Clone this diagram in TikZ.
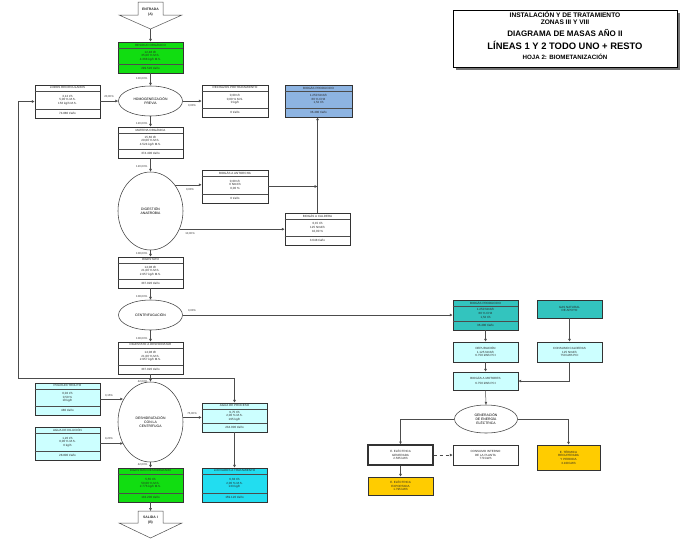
\documentclass[tikz,border=0pt]{standalone}
\usepackage{fontspec}
\setmainfont{Liberation Sans}
\usetikzlibrary{shapes.geometric,arrows.meta,fit}
\definecolor{cgreen}{HTML}{11DD11}
\definecolor{cblue}{HTML}{8DB4E2}
\definecolor{cteal}{HTML}{33C4BE}
\definecolor{clcyan}{HTML}{CCFFFF}
\definecolor{ccyan}{HTML}{22DDF0}
\definecolor{cyel}{HTML}{FFCC00}
\newcommand{\tribox}[9]{%
  \node[dbox, fill=#2, fit={(#3,#4)(#5,#6)}] (#1) {};
  \draw[divl] ([yshift=-6pt]#1.north west) -- ([yshift=-6pt]#1.north east);
  \draw[divl] ([yshift=9pt]#1.south west) -- ([yshift=9pt]#1.south east);
  \node[btxt] at ([yshift=-3pt]#1.north) {#7};
  \node[btxt] at ([yshift=1.5pt]#1.center) {#8};
  \node[btxt] at ([yshift=4.5pt]#1.south) {#9};
}
\newcommand{\plainbox}[7]{%
  \node[dbox, fill=#2, fit={(#3,#4)(#5,#6)}] (#1) {};
  \node[btxt] at (#1.center) {#7};
}
\begin{document}
\begin{tikzpicture}[x=1pt,y=-1pt,
  dbox/.style={draw=black!80, line width=0.55pt, inner sep=0pt},
  divl/.style={draw=black!70, line width=0.4pt},
  btxt/.style={font=\fontsize{3}{3.6}\selectfont, align=center, inner sep=0pt, text=black!85},
  ell/.style={ellipse, draw=black!75, line width=0.55pt, fill=white, inner sep=0pt, font=\fontsize{3.4}{4}\selectfont, align=center},
  conn/.style={draw=black!70, line width=0.5pt},
  arr/.style={conn, -{Latex[length=2.8pt,width=2.8pt]}},
  lbl/.style={font=\fontsize{2.8}{3.2}\selectfont, inner sep=0.5pt, text=black!80},
  ttl/.style={font=\fontsize{#1}{#1}\selectfont\bfseries, inner sep=0pt},
]
\fill[white] (0,0) rectangle (685,544);
\useasboundingbox (0,0) rectangle (685,544);

% ---------- title block ----------
\fill[black!55] (456,13) rectangle (680,70);
\draw[fill=white, line width=0.7pt] (453,10) rectangle (677,67);
\node[ttl=6.6] (t1) at (565,14.5) {INSTALACIÓN Y DE TRATAMIENTO};
\node[ttl=6.6] (t2) at (565,22.5) {ZONAS III Y VIII};
\node[ttl=8.0] (t3) at (565,33) {DIAGRAMA DE MASAS AÑO II};
\node[ttl=9.4] (t4) at (565,45) {LÍNEAS 1 Y 2 TODO UNO + RESTO};
\node[ttl=6.2] (t5) at (565,57) {HOJA 2: BIOMETANIZACIÓN};

% ---------- input / output arrows ----------
\draw[conn, fill=white] (138,2) -- (163,2) -- (163,15) -- (182,15) -- (150.5,29) -- (119,15) -- (138,15) -- cycle;
\node[btxt, font=\fontsize{3.4}{4}\selectfont\bfseries] (inA) at (150.5,12) {ENTRADA\\[1pt](A)};
\coordinate (inAtip) at (150.5,29);
\draw[conn, fill=white] (138,511) -- (163,511) -- (163,523) -- (182,523) -- (150.5,538) -- (119,523) -- (138,523) -- cycle;
\node[btxt, font=\fontsize{3.4}{4}\selectfont\bfseries] (outB) at (150.5,520) {SALIDA I\\[1pt](B)};
\coordinate (outBtop) at (150.5,511);

% ---------- main column ----------
\tribox{g1}{cgreen}{118}{42}{183}{73}{RESIDUO ORGÁNICO}{12,48 t/h\\35,00 \% M.S.\\4.368 kg/h M.S.}{299.520 t/año}
\node[ell, minimum width=64pt, minimum height=30pt] (e1) at (150.5,101) {HOMOGENEIZACIÓN\\PREVIA};
\tribox{lb1}{white}{35}{85}{100}{118}{LODOS RECIRCULADOS}{3,12 t/h\\5,00 \% M.S.\\156 kg/h M.S.}{74.880 t/año}
\tribox{rb1}{white}{202}{85}{268}{117}{RECHAZOS PRETRATAMIENTO}{0,00 t/h\\0,00 \% M.S.\\0 kg/h}{0 t/año}
\tribox{bl}{cblue}{285}{85}{352}{117}{BIOGÁS PRODUCIDO}{1.250 Nm3/h\\60 \% CH4\\1,52 t/h}{36.480 t/año}
\tribox{b2}{white}{118}{127}{183}{158}{MATERIA ORGÁNICA}{15,60 t/h\\29,00 \% M.S.\\4.524 kg/h M.S.}{374.400 t/año}
\node[ell, minimum width=65pt, minimum height=78pt] (e2) at (150.5,211) {DIGESTIÓN\\ANAEROBIA};
\tribox{rb2}{white}{202}{170}{268}{203}{BIOGÁS A ANTORCHA}{0,00 t/h\\0 Nm3/h\\0,00 \%}{0 t/año}
\tribox{rb3}{white}{285}{213}{350}{245}{BIOGÁS A CALDERA}{0,15 t/h\\125 Nm3/h\\10,00 \%}{3.648 t/año}
\tribox{b3}{white}{118}{257}{183}{288}{DIGESTATO}{14,08 t/h\\21,00 \% M.S.\\2.957 kg/h M.S.}{337.920 t/año}
\node[ell, minimum width=64pt, minimum height=30pt] (e3) at (150.5,315) {CENTRIFUGACIÓN};
\tribox{b4}{white}{118}{342}{183}{374}{DIGESTATO A DESHIDRATAR}{14,08 t/h\\21,00 \% M.S.\\2.957 kg/h M.S.}{337.920 t/año}
\node[ell, minimum width=65pt, minimum height=80pt] (e4) at (150.5,422) {DESHIDRATACIÓN\\CON LA\\CENTRÍFUGA};
\tribox{la}{clcyan}{35}{383}{100}{415}{POLIELECTROLITO}{0,02 t/h\\0,50 \%\\10 kg/h}{480 t/año}
\tribox{lb}{clcyan}{35}{427}{100}{460}{AGUA DE DILUCIÓN}{1,20 t/h\\0,00 \% M.S.\\0 kg/h}{28.800 t/año}
\tribox{rb4}{clcyan}{202}{403}{267}{432}{AGUA DE PROCESO}{9,75 t/h\\2,00 \% M.S.\\195 kg/h}{234.000 t/año}
\tribox{g2}{cgreen}{118}{468}{183}{502}{DIGESTATO DESHIDRATADO}{5,55 t/h\\50,00 \% M.S.\\2.776 kg/h M.S.}{133.200 t/año}
\tribox{cy}{ccyan}{202}{468}{267}{502}{LIXIVIADOS A TRATAMIENTO}{6,63 t/h\\2,00 \% M.S.\\133 kg/h}{159.120 t/año}

% ---------- energy section ----------
\tribox{tl1}{cteal}{453}{300}{518}{330}{BIOGÁS PRODUCIDO}{1.250 Nm3/h\\60 \% CH4\\1,52 t/h}{36.480 t/año}
\plainbox{tl2}{cteal}{537}{300}{602}{318}{GAS NATURAL\\DE APOYO}
\plainbox{lc1}{clcyan}{453}{342}{518}{362}{DEPURACIÓN\\1.125 Nm3/h\\6.750 kWh PCI}
\plainbox{lc2}{clcyan}{537}{342}{602}{362}{CONSUMO CALDERAS\\125 Nm3/h\\750 kWh PCI}
\plainbox{lc3}{clcyan}{453}{372}{518}{390}{BIOGÁS A MOTORES\\[1.5pt]6.750 kWh PCI}
\node[ell, minimum width=63pt, minimum height=28pt] (e5) at (486,419) {GENERACIÓN\\DE ENERGÍA\\ELÉCTRICA};
\node[dbox, line width=1.3pt, fill=white, fit={(368,445)(433,465)}] (w1) {};
\node[btxt] at (w1.center) {E. ELÉCTRICA\\GENERADA\\2.565 kWh};
\plainbox{w2}{white}{453}{445}{518}{465}{CONSUMO INTERNO\\DE LA PLANTA\\770 kWh}
\plainbox{y1}{cyel}{537}{445}{600}{470}{E. TÉRMICA\\RECUPERADA\\Y PERDIDA\\3.100 kWh}
\plainbox{y2}{cyel}{368}{477}{433}{495}{E. ELÉCTRICA\\EXPORTADA\\1.795 kWh}

% ---------- connectors ----------
\draw[arr] (inAtip) -- (g1.north);
\draw[arr] (g1.south) -- (e1.north);
\node[lbl, anchor=east] at (148,79) {100,00\%};
\draw[arr] (lb1.east |- e1.west) -- (e1.west);
\node[lbl] at (109,97) {20,00\%};
\draw[arr] (e1.east) -- (e1.east -| rb1.west);
\node[lbl] at (192,106) {0,00\%};
\draw[arr] (e1.south) -- (b2.north);
\node[lbl, anchor=east] at (148,124) {120,00\%};
\draw[arr] (b2.south) -- (e2.north);
\node[lbl, anchor=east] at (148,167) {120,00\%};
\draw[arr] (e2.47) -- (e2.47 -| rb2.west);
\node[lbl] at (190,190) {0,00\%};
\coordinate (jg) at (rb3.north |- rb2.east);
\draw[arr] (rb2.east) -- (jg);
\draw[arr] (rb3.north) -- (bl.south -| rb3.north);
\draw[arr] (e2.-32) -- (e2.-32 -| rb3.west);
\node[lbl] at (190,234) {10,00\%};
\draw[arr] (e2.south) -- (b3.north);
\node[lbl, anchor=east] at (148,254) {108,00\%};
\draw[arr] (b3.south) -- (e3.north);
\node[lbl, anchor=east] at (148,297) {108,00\%};
\draw[arr] (e3.east) -- (e3.east -| tl1.west);
\node[lbl] at (192,311) {0,00\%};
\draw[arr] (e3.south) -- (b4.north);
\node[lbl, anchor=east] at (148,339) {108,00\%};
\coordinate (jm) at (150.5,378);
\draw[arr] (b4.south) -- (e4.north);
\draw[arr] (jm) -- (18,378) -- (18,101.5) -- (lb1.west);
\draw[arr] (jm) -| (rb4.north);
\node[lbl, anchor=east] at (148,382) {42,00\%};
\draw[arr] (la.east) -- (la.east -| e4.141);
\node[lbl] at (109,396) {0,15\%};
\draw[arr] (lb.east) -- (lb.east -| e4.-141);
\node[lbl] at (109,439) {9,20\%};
\draw[arr] (e4.8) -- (e4.8 -| rb4.west);
\node[lbl] at (192,414) {75,00\%};
\draw[arr] (rb4.south) -- (cy.north);
\draw[arr] (e4.south) -- (g2.north);
\node[lbl, anchor=east] at (148,465) {42,00\%};
\draw[arr] (g2.south) -- (outBtop);

\draw[arr] (tl1.south) -- (lc1.north);
\draw[arr] (tl2.south) -- (tl2.south |- lc2.north);
\draw[arr] (lc1.south) -- (lc3.north);
\draw[arr] (lc2.south) -- (lc2.south |- lc3.east) -- (lc3.east);
\draw[arr] (lc3.south) -- (e5.north);
\draw[arr] (e5.west) -| (w1.north);
\draw[arr] (e5.east) -| (y1.north);
\draw[arr, dashed] (w1.east) -- (w2.west);
\draw[arr] (w1.south) -- (y2.north);
\end{tikzpicture}
\end{document}
